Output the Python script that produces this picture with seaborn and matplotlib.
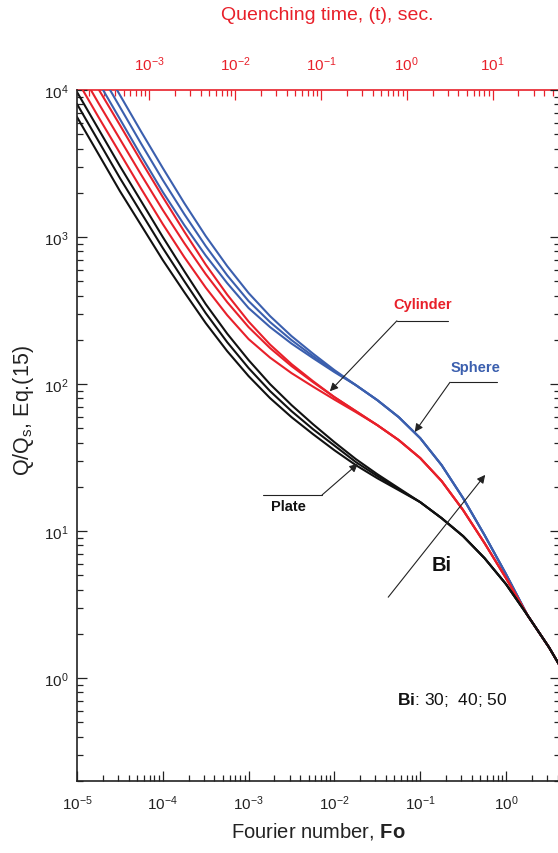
import numpy as np
import pandas as pd
import matplotlib
matplotlib.use("Agg")
import matplotlib.pyplot as plt
import matplotlib.ticker as mticker
import seaborn as sns

# ---------------- data ----------------
fo = [1e-5, 1.778e-5, 3.162e-5, 5.623e-5, 1e-4, 1.778e-4, 3.162e-4, 5.623e-4,
      1e-3, 1.778e-3, 3.162e-3, 5.623e-3, 1e-2, 1.778e-2, 3.162e-2, 5.623e-2,
      0.1, 0.1778, 0.3162, 0.5623, 1.0, 1.778, 3.162, 4.2]

plate_bi50 = [9690, 5430, 3040, 1744, 1000, 587, 350, 220.5, 145.6, 100, 72.0, 53.4,
              40.3, 30.9, 24.4, 19.6, 15.75, 12.25, 9.25, 6.55, 4.36, 2.683, 1.625, 1.226]
plate_bi40 = [8030, 4500, 2520, 1456, 842, 502, 304, 193, 128.5, 89.6, 65.5, 49.4,
              38.2, 29.5, 23.7, 19.3, 15.75, 12.25, 9.25, 6.55, 4.36, 2.683, 1.625, 1.226]
plate_bi30 = [6550, 3670, 2054, 1197, 697, 422.5, 260, 167.7, 113.3, 80.3, 59.6, 45.7,
              35.5, 28.1, 22.9, 19.0, 15.75, 12.25, 9.25, 6.55, 4.36, 2.683, 1.625, 1.226]

cyl_bi50 = [18130, 10160, 5780, 3263, 1871, 1090, 650, 406.3, 266.2, 185.6, 136.8, 104.8,
            81.55, 65.5, 52.6, 41.6, 31.4, 21.9, 13.9, 8.29, 4.79, 2.683, 1.625, 1.226]
cyl_bi40 = [14560, 8155, 4640, 2641, 1527, 910, 560, 361.3, 244, 175.8, 132.6, 103.2,
            81.55, 65.5, 52.6, 41.6, 31.4, 21.9, 13.9, 8.29, 4.79, 2.683, 1.625, 1.226]
cyl_bi30 = [11690, 6550, 3727, 2120, 1225, 731, 453.4, 294.6, 202.3, 151.4, 118.8, 96.2,
            78.5, 64.5, 52.6, 41.6, 31.4, 21.9, 13.9, 8.29, 4.79, 2.683, 1.625, 1.226]

sph_bi50 = [29460, 16510, 9245, 5181, 2946, 1703, 1016, 634.9, 416, 290.1, 212.0, 161.2,
            124.5, 98.4, 77.8, 59.6, 42.9, 28.1, 16.77, 9.395, 5.10, 2.683, 1.625, 1.226]
sph_bi40 = [24420, 13680, 7663, 4291, 2442, 1433, 868.6, 549.7, 367, 264.1, 199.2, 155.0,
            122.5, 98.4, 77.8, 59.6, 42.9, 28.1, 16.77, 9.395, 5.10, 2.683, 1.625, 1.226]
sph_bi30 = [20230, 11330, 6349, 3555, 2023, 1207, 748.5, 486.4, 328.9, 244.2, 188.6, 150.3,
            120.7, 98.4, 77.8, 59.6, 42.9, 28.1, 16.77, 9.395, 5.10, 2.683, 1.625, 1.226]

bi_values = [30, 40, 50]
time_per_fo = 14.35            # t = Fo * time_per_fo (top axis)
top_major_ticks = [1e-3, 1e-2, 1e-1, 1e0, 1e1]

RED = "#e8202a"
BLUE = "#3b5fae"
BLACK = "#111111"
AXC = "#222222"

# ---------------- long table ----------------
series = {
    ("Plate", 30): plate_bi30, ("Plate", 40): plate_bi40, ("Plate", 50): plate_bi50,
    ("Cylinder", 30): cyl_bi30, ("Cylinder", 40): cyl_bi40, ("Cylinder", 50): cyl_bi50,
    ("Sphere", 30): sph_bi30, ("Sphere", 40): sph_bi40, ("Sphere", 50): sph_bi50,
}
rows = []
for (shape, bi), vals in series.items():
    for f, q in zip(fo, vals):
        rows.append({"Fo": f, "Q": q, "shape": shape, "Bi": bi})
df = pd.DataFrame(rows)

# ---------------- style ----------------
sns.set_style("ticks")
plt.rcParams["font.family"] = ["Liberation Sans", "DejaVu Sans"]
plt.rcParams["mathtext.fontset"] = "custom"
plt.rcParams["mathtext.rm"] = "Liberation Sans"
plt.rcParams["mathtext.it"] = "Liberation Sans:italic"
plt.rcParams["mathtext.bf"] = "Liberation Sans:bold"
plt.rcParams["axes.unicode_minus"] = False

W, H = 558, 854
fig = plt.figure(figsize=(W / 100, H / 100), dpi=100)
ax = fig.add_axes([77 / W, (H - 782) / H, (559.5 - 77) / W, (782 - 91) / H])

sns.lineplot(data=df, x="Fo", y="Q", hue="shape", units="Bi", estimator=None,
             palette={"Plate": BLACK, "Cylinder": RED, "Sphere": BLUE},
             hue_order=["Sphere", "Cylinder", "Plate"],
             linewidth=1.5, legend=False, ax=ax, sort=True)

ax.set_xscale("log")
ax.set_yscale("log")
ax.set_xlim(1e-5, 4.2)
ax.set_ylim(0.2, 1e4)

for axis in (ax.xaxis, ax.yaxis):
    axis.set_major_locator(mticker.LogLocator(base=10, numticks=20))
    axis.set_minor_locator(mticker.LogLocator(base=10, subs=np.arange(2, 10), numticks=60))
    axis.set_minor_formatter(mticker.NullFormatter())

ax.tick_params(which="both", direction="in", top=False, right=True,
               left=True, bottom=True, color=AXC, width=0.9)
ax.tick_params(which="major", length=7, labelsize=11, labelcolor=AXC)
ax.tick_params(which="minor", length=4)
ax.tick_params(axis="x", which="major", pad=9)
ax.tick_params(axis="y", which="major", pad=6)
for s in ["left", "bottom", "right"]:
    ax.spines[s].set_color(AXC)
    ax.spines[s].set_linewidth(1.2)
ax.spines["top"].set_visible(False)

ax.set_xlabel("Fourier number, $\\mathbf{Fo}$", fontsize=14.5, color=AXC, labelpad=6)
ax.set_ylabel("")
fig.text(24 / W, 1 - 411 / H, "Q/Q$_\\mathregular{s}$, Eq.(15)", rotation=90,
         ha="center", va="center", fontsize=15.5, color=AXC)

# ---------------- top axis: quenching time ----------------
sec = ax.secondary_xaxis("top", functions=(lambda f: f * time_per_fo,
                                           lambda t: t / time_per_fo))
t_lo, t_hi = 1e-5 * time_per_fo, 4.2 * time_per_fo
top_minor = [m * d for d in [1e-4, 1e-3, 1e-2, 1e-1, 1e0, 1e1]
             for m in range(2, 10) if t_lo <= m * d <= t_hi]
sec.xaxis.set_major_locator(mticker.FixedLocator(top_major_ticks))
sec.xaxis.set_minor_locator(mticker.FixedLocator(top_minor))
sec.xaxis.set_major_formatter(mticker.LogFormatterSciNotation())
sec.xaxis.set_minor_formatter(mticker.NullFormatter())
sec.tick_params(which="both", direction="in", color=RED, labelcolor=RED, width=0.9)
sec.tick_params(which="major", length=7, labelsize=11, pad=12)
sec.tick_params(which="minor", length=4)
sec.spines["top"].set_color(RED)
sec.spines["top"].set_linewidth(1.2)
fig.text(327 / W, 1 - 16 / H, "Quenching time, (t), sec.", color=RED,
         fontsize=14, ha="center", va="center")

# ---------------- annotations ----------------
tr = ax.transAxes
arrow_kw = dict(arrowstyle="-|>", color=AXC, lw=0.8, mutation_scale=12,
                shrinkA=0, shrinkB=0)

# Cylinder
ax.text(0.717, 0.690, "Cylinder", transform=tr, color=RED, fontsize=10.5,
        fontweight="bold", ha="center", va="center")
ax.plot([0.663, 0.769], [0.666, 0.666], transform=tr, color=AXC, lw=0.8)
ax.annotate("", xy=(0.524, 0.564), xycoords=tr, xytext=(0.663, 0.666),
            textcoords=tr, arrowprops=arrow_kw)

# Sphere
ax.text(0.825, 0.599, "Sphere", transform=tr, color=BLUE, fontsize=10.5,
        fontweight="bold", ha="center", va="center")
ax.plot([0.773, 0.870], [0.577, 0.577], transform=tr, color=AXC, lw=0.8)
ax.annotate("", xy=(0.700, 0.505), xycoords=tr, xytext=(0.773, 0.577),
            textcoords=tr, arrowprops=arrow_kw)

# Plate
ax.text(0.439, 0.398, "Plate", transform=tr, color=BLACK, fontsize=10.5,
        fontweight="bold", ha="center", va="center")
ax.plot([0.385, 0.508], [0.414, 0.414], transform=tr, color=AXC, lw=0.8)
ax.annotate("", xy=(0.582, 0.459), xycoords=tr, xytext=(0.508, 0.414),
            textcoords=tr, arrowprops=arrow_kw)

# Bi arrow
ax.annotate("", xy=(0.846, 0.443), xycoords=tr, xytext=(0.645, 0.266),
            textcoords=tr, arrowprops=arrow_kw)
ax.text(0.756, 0.313, "Bi", transform=tr, color=BLACK, fontsize=14.5,
        fontweight="bold", ha="center", va="center")

ax.text(0.663, 0.119, "$\\mathbf{Bi}$: %d;  %d; %d" % tuple(bi_values), transform=tr,
        color=BLACK, fontsize=12.5, ha="left", va="center")

fig.savefig("out.png", dpi=100)
